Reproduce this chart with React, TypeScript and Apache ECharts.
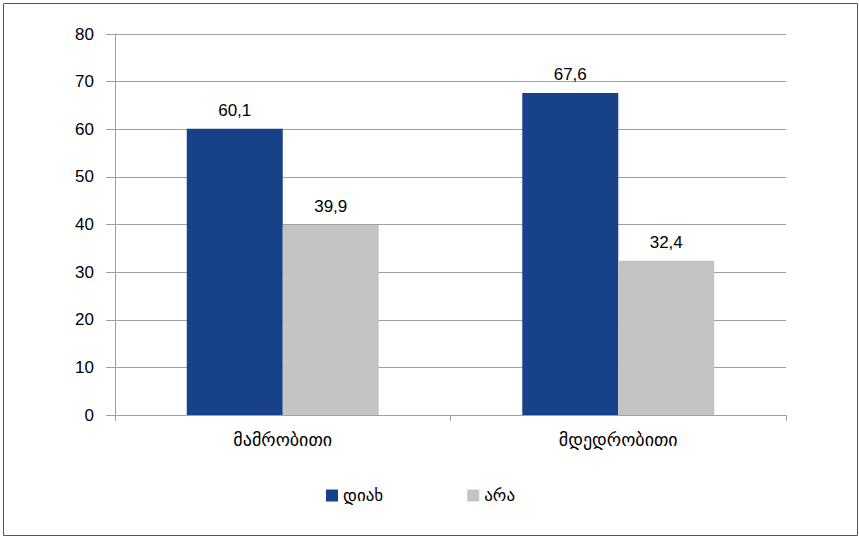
import React, { useEffect, useRef } from "react";
import * as echarts from "echarts";

const categories = ["მამრობითი", "მდედრობითი"];
const seriesNames = ["დიახ", "არა"];
const yesValues = [60.1, 67.6];
const noValues = [39.9, 32.4];
const colors = ["#17428a", "#c4c4c4"];

export default function App() {
  const ref = useRef<HTMLDivElement>(null);
  useEffect(() => {
    const chart = echarts.init(ref.current!, null, { renderer: "svg" });
    const font = "'Liberation Sans', Arial, 'DejaVu Sans', sans-serif";
    const label = {
      show: true,
      position: "top",
      distance: 10,
      color: "#000",
      fontSize: 17,
      fontFamily: font,
      formatter: (p: any) => String(p.value).replace(".", ","),
    };
    chart.setOption({
      animation: false,
      backgroundColor: "#fff",
      textStyle: { fontFamily: font },
      graphic: [
        {
          type: "rect",
          shape: { x: 3.5, y: 3.5, width: 854, height: 532 },
          style: { fill: "none", stroke: "#555", lineWidth: 1 },
          silent: true,
        },
      ],
      grid: { left: 115, right: 73, top: 34, bottom: 123 },
      legend: {
        data: seriesNames,
        left: 321,
        top: 482,
        itemWidth: 12,
        itemHeight: 12,
        itemGap: 84,
        icon: "rect",
        textStyle: { fontSize: 17, color: "#000", fontFamily: font },
      },
      xAxis: {
        type: "category",
        data: categories,
        axisLine: { lineStyle: { color: "#a0a0a0" } },
        axisTick: { show: true, length: 6, lineStyle: { color: "#a0a0a0" } },
        axisLabel: { fontSize: 18, color: "#000", margin: 16, fontFamily: font },
      },
      yAxis: {
        type: "value",
        min: 0,
        max: 80,
        interval: 10,
        axisLine: { show: true, lineStyle: { color: "#a0a0a0" } },
        axisTick: { show: true, length: 9, lineStyle: { color: "#a0a0a0" } },
        splitLine: { lineStyle: { color: "#a0a0a0" } },
        axisLabel: { fontSize: 17, color: "#000", margin: 21, fontFamily: font },
      },
      series: [
        {
          name: seriesNames[0],
          type: "bar",
          data: yesValues,
          barWidth: 96,
          barGap: "0%",
          itemStyle: { color: colors[0] },
          label,
        },
        {
          name: seriesNames[1],
          type: "bar",
          data: noValues,
          barWidth: 96,
          barGap: "0%",
          itemStyle: { color: colors[1] },
          label,
        },
      ],
    });
    return () => chart.dispose();
  }, []);
  return (
    <div
      ref={ref}
      style={{ position: "fixed", left: 0, top: 0, width: 859, height: 538 }}
    />
  );
}
